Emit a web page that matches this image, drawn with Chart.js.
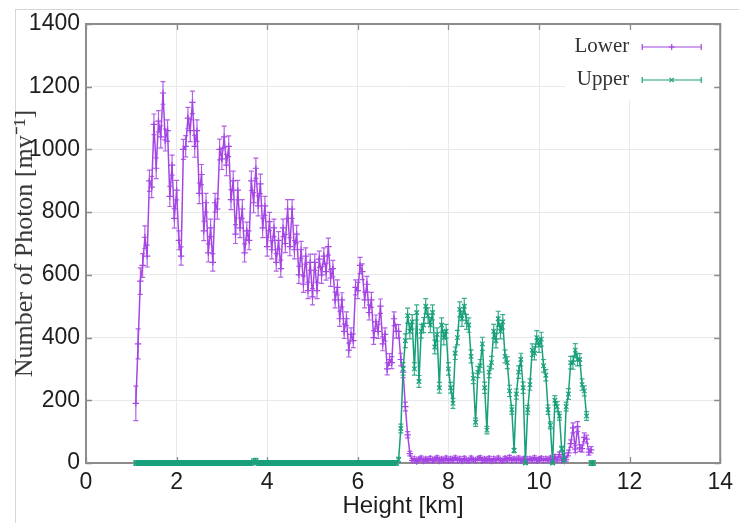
<!DOCTYPE html>
<html>
<head>
<meta charset="utf-8">
<script src="https://cdn.jsdelivr.net/npm/chart.js@4.4.0/dist/chart.umd.min.js"></script>
<style>
  html, body { margin: 0; padding: 0; background: #fff; }
  #wrap { position: relative; width: 739px; height: 523px; overflow: hidden; }
  #frame { position: absolute; left: 15px; top: 9px; right: 0; bottom: 0;
           border-top: 1px solid #d6d6d6; border-left: 1px solid #d6d6d6; }
  canvas { position: absolute; left: 0; top: 0; }
</style>
</head>
<body>
<div id="wrap">
  <div id="frame"></div>
  <canvas id="c" width="739" height="523"></canvas>
</div>
<script>
// Sampling heights [km]
const heights = [
  1.10,1.15,1.20,1.25,1.30,1.35,1.40,1.45,1.50,1.55,
  1.60,1.65,1.70,1.75,1.80,1.85,1.90,1.95,2.00,2.05,
  2.10,2.15,2.20,2.25,2.30,2.35,2.40,2.45,2.50,2.55,
  2.60,2.65,2.70,2.75,2.80,2.85,2.90,2.95,3.00,3.05,
  3.10,3.15,3.20,3.25,3.30,3.35,3.40,3.45,3.50,3.55,
  3.60,3.65,3.70,3.75,3.80,3.85,3.90,3.95,4.00,4.05,
  4.10,4.15,4.20,4.25,4.30,4.35,4.40,4.45,4.50,4.55,
  4.60,4.65,4.70,4.75,4.80,4.85,4.90,4.95,5.00,5.05,
  5.10,5.15,5.20,5.25,5.30,5.35,5.40,5.45,5.50,5.55,
  5.60,5.65,5.70,5.75,5.80,5.85,5.90,5.95,6.00,6.05,
  6.10,6.15,6.20,6.25,6.30,6.35,6.40,6.45,6.50,6.55,
  6.60,6.65,6.70,6.75,6.80,6.85,6.90,6.95,7.00,7.05,
  7.10,7.15,7.20,7.25,7.30,7.35,7.40,7.45,7.50,7.55,
  7.60,7.65,7.70,7.75,7.80,7.85,7.90,7.95,8.00,8.05,
  8.10,8.15,8.20,8.25,8.30,8.35,8.40,8.45,8.50,8.55,
  8.60,8.65,8.70,8.75,8.80,8.85,8.90,8.95,9.00,9.05,
  9.10,9.15,9.20,9.25,9.30,9.35,9.40,9.45,9.50,9.55,
  9.60,9.65,9.70,9.75,9.80,9.85,9.90,9.95,10.00,10.05,
  10.10,10.15,10.20,10.25,10.30,10.35,10.40,10.45,10.50,10.55,
  10.60,10.65,10.70,10.75,10.80,10.85,10.90,10.95,11.00,11.05,
  11.10,11.15,11.20
];

// Photon counts of the lower layer and their errors
const lowerCount = [
  190,380,580,630,720,660,900,880,1080,940,
  1090,1040,1180,1030,1060,850,950,780,870,710,
  660,1000,1010,1100,1060,1150,1010,1060,860,920,
  740,830,670,750,640,830,810,1000,970,1040,
  950,1010,840,900,730,870,750,810,670,740,
  710,900,830,940,820,890,750,820,690,770,
  680,750,640,710,620,750,700,810,690,810,
  680,730,600,680,570,660,550,640,530,640,
  550,650,600,660,610,690,590,620,520,560,
  460,520,420,460,360,410,390,560,550,630,
  610,520,570,480,520,400,450,420,500,380,
  410,300,330,320,460,420,420,330,290,180,
  90,30,8,14,5,12,16,6,13,8,
  15,7,12,17,6,13,8,16,7,14,
  9,17,8,14,6,15,9,7,16,10,
  8,14,17,7,13,9,15,6,14,8,
  16,9,7,15,10,18,8,14,9,16,
  7,13,15,8,14,9,17,7,12,15,
  8,14,9,16,7,20,10,27,8,22,
  12,32,62,112,44,116,48,46,82,76,
  35,42,null
];
const lowerError = [
  55,48,42,38,36,35,34,34,33,33,
  34,35,36,35,34,32,32,31,31,30,
  29,32,34,34,35,36,35,34,33,32,
  31,30,29,28,28,30,32,33,34,34,
  34,33,32,31,30,31,31,30,29,28,
  30,31,32,32,32,31,31,30,30,29,
  29,28,28,28,27,28,29,30,29,30,
  29,28,27,27,26,26,26,26,26,26,
  26,26,27,26,27,27,27,26,25,24,
  24,23,23,22,22,21,22,24,26,26,
  25,25,25,24,24,22,22,23,23,22,
  21,19,19,19,22,22,21,20,18,14,
  10,7,6,6,6,6,6,6,6,6,
  6,6,6,6,6,6,6,6,6,6,
  6,6,6,6,6,6,6,6,6,6,
  6,6,6,6,6,6,6,6,6,6,
  6,6,6,6,6,6,6,6,6,6,
  6,6,6,6,6,6,6,6,6,6,
  6,6,6,6,6,7,6,8,6,7,
  6,9,12,16,11,16,11,11,14,13,
  10,10,null
];

// Photon counts of the upper layer and their errors
const upperCount = [
  0,0,0,0,0,0,0,0,0,0,
  0,0,0,0,0,0,0,0,0,0,
  0,0,0,0,0,0,0,0,0,0,
  0,0,0,0,0,0,0,0,0,0,
  0,0,0,0,0,0,0,0,0,0,
  0,0,4,6,0,0,0,0,0,0,
  0,0,0,0,0,0,0,0,0,0,
  0,0,0,0,0,0,0,0,0,0,
  0,0,0,0,0,0,0,0,0,0,
  0,0,0,0,0,0,0,0,0,0,
  0,0,0,0,0,0,0,0,0,0,
  0,0,0,0,0,0,10,110,300,390,
  470,420,450,300,480,260,420,440,500,470,
  440,480,370,410,240,440,400,420,300,240,
  190,350,400,490,460,500,450,440,340,270,
  130,290,310,380,240,105,290,320,420,390,
  460,420,450,340,320,230,170,40,220,290,
  330,240,0,170,250,360,350,400,375,395,
  310,280,170,120,0,200,180,150,45,10,
  180,220,320,320,360,330,330,250,230,150,
  null,0,0
];
const upperError = [
  8,8,8,8,8,8,8,8,8,8,
  8,8,8,8,8,8,8,8,8,8,
  8,8,8,8,8,8,8,8,8,8,
  8,8,8,8,8,8,8,8,8,8,
  8,8,8,8,8,8,8,8,8,8,
  8,8,9,9,8,8,8,8,8,8,
  8,8,8,8,8,8,8,8,8,8,
  8,8,8,8,8,8,8,8,8,8,
  8,8,8,8,8,8,8,8,8,8,
  8,8,8,8,8,8,8,8,8,8,
  8,8,8,8,8,8,8,8,8,8,
  8,8,8,8,8,8,8,14,20,22,
  24,24,23,20,24,19,22,24,24,25,
  24,24,22,21,17,23,23,22,20,17,
  16,20,23,24,24,25,24,23,21,17,
  13,18,20,21,18,12,18,20,22,23,
  24,24,23,21,19,18,14,7,16,20,
  20,18,4,14,18,20,21,22,22,22,
  20,18,15,11,4,15,16,13,8,5,
  14,17,20,21,21,20,19,18,16,14,
  null,8,8
];

const LOWER_COLOR = '#a445e4';
const UPPER_COLOR = '#17a07a';

function toPoints(counts) {
  return heights.map((h, i) => ({ x: h, y: counts[i] }));
}

// Vertical error bars with small caps, drawn right after each dataset
const errorBars = {
  id: 'errorBars',
  afterDatasetDraw(chart, args) {
    const ds = chart.data.datasets[args.index];
    if (!ds.errors) return;
    const { ctx, chartArea: a, scales: { y } } = chart;
    ctx.save();
    ctx.beginPath();
    ctx.rect(a.left - 6, a.top, a.width + 12, a.height + 6);
    ctx.clip();
    ctx.strokeStyle = ds.borderColor;
    ctx.globalAlpha = 0.85;
    ctx.lineWidth = 1.2;
    args.meta.data.forEach((el, i) => {
      const v = ds.data[i].y, e = ds.errors[i];
      if (v == null || e == null) return;
      const top = y.getPixelForValue(v + e);
      const bot = y.getPixelForValue(v - e);
      const px = el.x;
      ctx.beginPath();
      ctx.moveTo(px, top); ctx.lineTo(px, bot);
      ctx.moveTo(px - 2.5, top); ctx.lineTo(px + 2.5, top);
      ctx.moveTo(px - 2.5, bot); ctx.lineTo(px + 2.5, bot);
      ctx.stroke();
    });
    ctx.restore();
  }
};

// Plot box, inward mirrored ticks and the key in the upper right corner
const frameAndKey = {
  id: 'frameAndKey',
  beforeDatasetsDraw(chart) {
    const { ctx, chartArea: a, scales: { x, y } } = chart;
    ctx.save();
    ctx.fillStyle = '#fff';
    ctx.fillRect(a.right - 155, a.top + 2, 153, 74);
    ctx.strokeStyle = '#8c8c8c';
    ctx.lineWidth = 2;
    ctx.strokeRect(a.left, a.top, a.width, a.height);
    ctx.lineWidth = 1.3;
    ctx.beginPath();
    x.ticks.forEach(t => {
      const px = Math.round(x.getPixelForValue(t.value)) + 0.5;
      ctx.moveTo(px, a.bottom); ctx.lineTo(px, a.bottom - 6);
      ctx.moveTo(px, a.top); ctx.lineTo(px, a.top + 6);
    });
    y.ticks.forEach(t => {
      const py = Math.round(y.getPixelForValue(t.value)) + 0.5;
      ctx.moveTo(a.left, py); ctx.lineTo(a.left + 6, py);
      ctx.moveTo(a.right, py); ctx.lineTo(a.right - 6, py);
    });
    ctx.stroke();
    ctx.restore();
  },
  afterDraw(chart) {
    const { ctx, chartArea: a } = chart;
    ctx.save();
    chart.data.datasets.forEach((ds, i) => {
      const base = a.top + 28 + i * 33;
      const ly = base - 5;
      ctx.font = '21px "Liberation Serif", "Times New Roman", serif';
      ctx.fillStyle = '#333';
      ctx.textAlign = 'right';
      ctx.textBaseline = 'alphabetic';
      ctx.fillText(ds.label, a.right - 91, base);
      const x0 = a.right - 78, x1 = a.right - 19;
      ctx.strokeStyle = ds.borderColor;
      ctx.lineWidth = 1.2;
      ctx.beginPath();
      ctx.moveTo(x0, ly); ctx.lineTo(x1, ly);
      ctx.moveTo(x0, ly - 3); ctx.lineTo(x0, ly + 3);
      ctx.moveTo(x1, ly - 3); ctx.lineTo(x1, ly + 3);
      ctx.stroke();
      Chart.helpers.drawPoint(ctx, {
        pointStyle: ds.pointStyle, radius: 3, rotation: 0, borderWidth: 1.2
      }, (x0 + x1) / 2, ly);
    });
    ctx.restore();
  }
};

const tickFont = { family: '"Liberation Sans", Arial, sans-serif', size: 23 };

new Chart(document.getElementById('c'), {
  type: 'line',
  data: {
    datasets: [
      {
        label: 'Lower',
        data: toPoints(lowerCount),
        errors: lowerError,
        borderColor: LOWER_COLOR,
        backgroundColor: LOWER_COLOR,
        borderWidth: 1.5,
        pointStyle: 'cross',
        pointRadius: 3.2,
        pointBorderWidth: 1.2,
        pointBorderColor: LOWER_COLOR,
        spanGaps: false,
        tension: 0,
        clip: 6,
        order: 2
      },
      {
        label: 'Upper',
        data: toPoints(upperCount),
        errors: upperError,
        borderColor: UPPER_COLOR,
        backgroundColor: UPPER_COLOR,
        borderWidth: 1.5,
        pointStyle: 'crossRot',
        pointRadius: 3.2,
        pointBorderWidth: 1.2,
        pointBorderColor: UPPER_COLOR,
        spanGaps: false,
        tension: 0,
        clip: 6,
        order: 1
      }
    ]
  },
  options: {
    responsive: false,
    devicePixelRatio: 1,
    animation: false,
    events: [],
    layout: { padding: { top: 24, right: 18, bottom: 0, left: 0 } },
    plugins: { legend: { display: false }, tooltip: { enabled: false } },
    scales: {
      x: {
        type: 'linear',
        min: 0, max: 14,
        ticks: { stepSize: 2, font: tickFont, color: '#1e1e1e', padding: 6, maxRotation: 0,
                 callback: v => String(v) },
        grid: { color: '#e9e9e9', lineWidth: 1, drawTicks: false },
        border: { display: false },
        title: {
          display: true, text: 'Height [km]', color: '#1e1e1e',
          font: { family: '"Liberation Sans", Arial, sans-serif', size: 24 },
          padding: { top: 0, bottom: 2 }
        },
        afterFit(scale) { scale.height = 60; }
      },
      y: {
        type: 'linear',
        min: 0, max: 1400,
        ticks: { stepSize: 200, font: tickFont, color: '#1e1e1e', padding: 6,
                 callback: v => String(v) },
        grid: { color: '#e9e9e9', lineWidth: 1, drawTicks: false },
        border: { display: false },
        title: {
          display: true, text: 'Number of Photon [mv⁻¹]', color: '#3a3a3a',
          font: { family: '"Liberation Serif", "Times New Roman", serif', size: 26 },
          padding: { top: 10, bottom: 0 }
        },
        afterFit(scale) { scale.width = 86; }
      }
    }
  },
  plugins: [errorBars, frameAndKey]
});
</script>
</body>
</html>
